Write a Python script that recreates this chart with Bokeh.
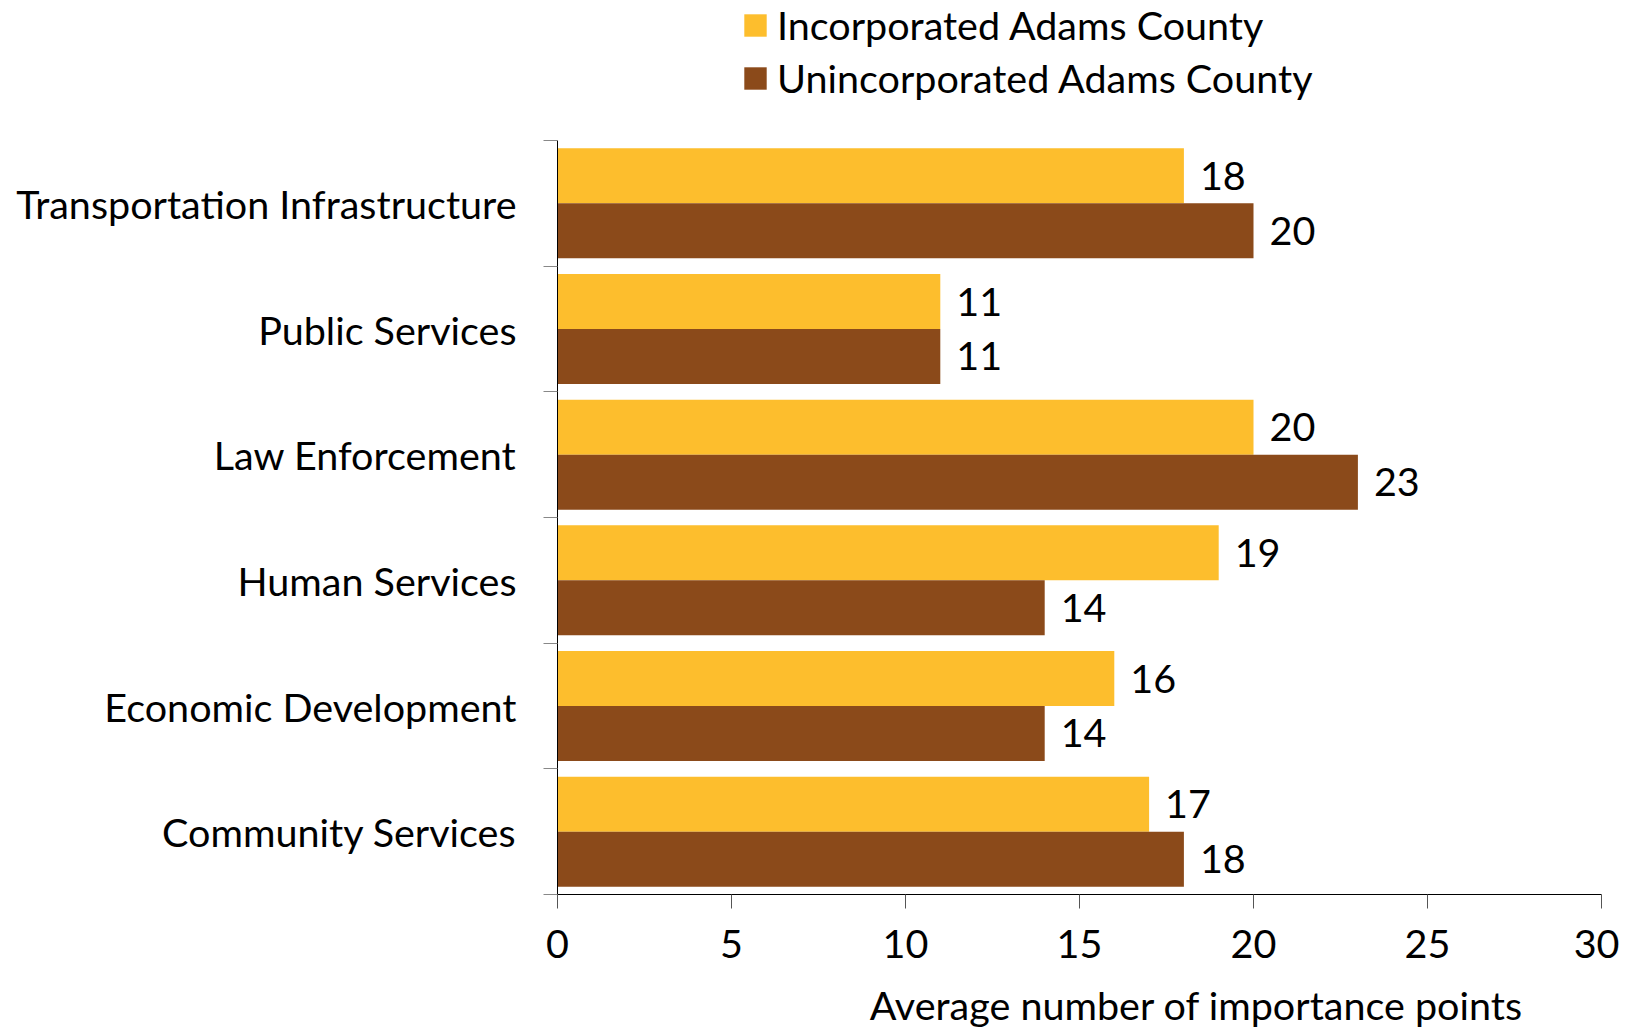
from bokeh.plotting import figure
from bokeh.layouts import column
from bokeh.models import (ColumnDataSource, Range1d, FixedTicker, Legend, LegendItem, Label)
from bokeh.transform import dodge
from bokeh.core.properties import value
from bokeh.embed import file_html
from bokeh.resources import INLINE

categories = ["Transportation Infrastructure", "Public Services", "Law Enforcement",
              "Human Services", "Economic Development", "Community Services"]
incorporated = [18, 11, 20, 19, 16, 17]
unincorporated = [20, 11, 23, 14, 14, 18]
series_names = ["Incorporated Adams County", "Unincorporated Adams County"]
x_ticks = [0, 5, 10, 15, 20, 25, 30]
x_title = "Average number of importance points"

FONT = "Lato"
FS = "39.5px"
YELLOW = "#FDBE2D"
BROWN = "#8B4A1A"
W = 1619

n = len(categories)
ypos = [n - 0.5 - i for i in range(n)]
src = ColumnDataSource(dict(cat=categories, y=ypos, inc=incorporated, uninc=unincorporated,
                            inc_t=[str(v) for v in incorporated],
                            uninc_t=[str(v) for v in unincorporated]))


def bare(fig):
    fig.axis.visible = False
    fig.xgrid.visible = False
    fig.ygrid.visible = False
    fig.outline_line_color = None


# ---- legend strip on top (its renderers are hidden; only the legend shows) ----
lg = figure(width=W, height=140, output_backend="svg", toolbar_location=None,
            x_range=Range1d(0, 30), y_range=Range1d(0, n),
            min_border_left=0, min_border_right=0, min_border_top=0, min_border_bottom=0)
bare(lg)
d1 = lg.hbar(y="y", right="inc", left=0, height=0.4, source=src, fill_color=YELLOW,
             line_color=None, visible=False)
d2 = lg.hbar(y="y", right="uninc", left=0, height=0.4, source=src, fill_color=BROWN,
             line_color=None, visible=False)
legend = Legend(items=[LegendItem(label=series_names[0], renderers=[d1], index=0),
                       LegendItem(label=series_names[1], renderers=[d2], index=0)],
                location=(184, 39), orientation="vertical",
                label_text_font=FONT, label_text_font_size=FS, label_text_color="black",
                glyph_width=28, glyph_height=28, label_standoff=8, spacing=6,
                padding=0, margin=0, border_line_color=None, background_fill_alpha=0,
                inactive_fill_alpha=0)
lg.add_layout(legend, "center")

# ---- main chart ----
p = figure(width=W, height=838, output_backend="svg", toolbar_location=None,
           x_range=Range1d(0, 30), y_range=Range1d(0, n),
           min_border_left=557, min_border_right=18, min_border_top=0, min_border_bottom=84)
p.outline_line_color = None
p.xgrid.visible = False
p.ygrid.visible = False

bh = 0.4375
r1 = p.hbar(y=dodge("y", bh / 2), right="inc", left=0, height=bh, source=src,
            fill_color=YELLOW, line_color=None)
r2 = p.hbar(y=dodge("y", -bh / 2), right="uninc", left=0, height=bh, source=src,
            fill_color=BROWN, line_color=None)

p.text(x="inc", y=dodge("y", bh / 2), text="inc_t", source=src, x_offset=16,
       text_baseline="middle", text_font=value(FONT), text_font_size=FS, text_color="black")
p.text(x="uninc", y=dodge("y", -bh / 2), text="uninc_t", source=src, x_offset=16,
       text_baseline="middle", text_font=value(FONT), text_font_size=FS, text_color="black")

xa = p.xaxis[0]
xa.ticker = FixedTicker(ticks=x_ticks)
xa.major_tick_in = 0
xa.major_tick_out = 14
xa.minor_tick_out = 0
xa.minor_tick_in = 0
xa.major_tick_line_color = "#555555"
xa.axis_line_color = "black"
xa.major_label_text_font = FONT
xa.major_label_text_font_size = FS
xa.major_label_text_color = "black"
xa.major_label_standoff = 21

ya = p.yaxis[0]
ya.ticker = FixedTicker(ticks=ypos, minor_ticks=list(range(n + 1)))
ya.major_label_overrides = {y: c for y, c in zip(ypos, categories)}
ya.major_tick_out = 0
ya.major_tick_in = 0
ya.minor_tick_out = 14
ya.minor_tick_in = 0
ya.minor_tick_line_color = "#888888"
ya.axis_line_color = "black"
ya.major_label_text_font = FONT
ya.major_label_text_font_size = FS
ya.major_label_text_color = "black"
ya.major_label_standoff = 27

# ---- x-axis title strip at the bottom ----
ts = figure(width=W, height=51, output_backend="svg", toolbar_location=None,
            x_range=Range1d(0, 30), y_range=Range1d(0, 1),
            min_border_left=0, min_border_right=0, min_border_top=0, min_border_bottom=0)
bare(ts)
ts.add_layout(Label(x=8.97, y=0.49, text=x_title, text_align="left", text_baseline="middle",
                    text_font=FONT, text_font_size=FS, text_color="black"))

page = column(lg, p, ts, spacing=0)
open("out.html", "w").write(file_html(page, INLINE))
